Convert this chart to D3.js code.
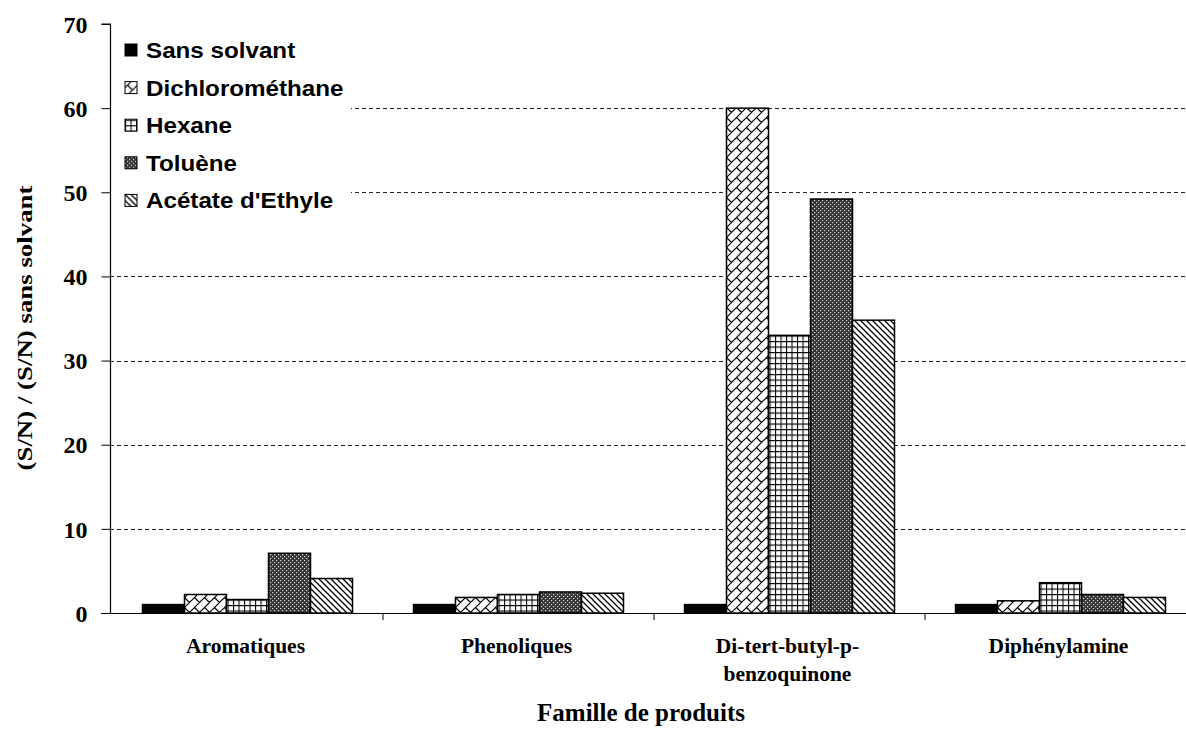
<!DOCTYPE html>
<html><head><meta charset="utf-8">
<script src="https://cdn.jsdelivr.net/npm/d3@7"></script>
<style>body{margin:0;background:#fff}svg{display:block}</style>
</head><body>
<svg id="chart" width="1186" height="729"></svg>
<script>
const categories = [["Aromatiques"], ["Phenoliques"], ["Di-tert-butyl-p-", "benzoquinone"], ["Diphénylamine"]];
const series = ["Sans solvant", "Dichlorométhane", "Hexane", "Toluène", "Acétate d'Ethyle"];
const sansSolvant = [1.0, 1.0, 1.0, 1.0];
const dichloromethane = [2.2, 1.85, 60.0, 1.45];
const hexane = [1.6, 2.2, 33.0, 3.6];
const toluene = [7.1, 2.5, 49.2, 2.2];
const acetate = [4.1, 2.35, 34.8, 1.85];
const yTicks = [0, 10, 20, 30, 40, 50, 60, 70];
const values = [sansSolvant, dichloromethane, hexane, toluene, acetate];

const svg = d3.select("#chart");
const defs = svg.append("defs");
const margin = {left: 112, top: 24, bottom: 613, right: 1196};

// patterns
const fills = ["#000"];
// DCM: diagonal brick
let p = defs.append("pattern").attr("id","p1").attr("patternUnits","userSpaceOnUse").attr("width",10).attr("height",10);
p.append("rect").attr("width",10).attr("height",10).attr("fill","#fff");
p.append("path").attr("d","M-1,11 L11,-1 M-2,2 L2,-2 M8,12 L12,8 M2.5,7.5 L7.5,12.5 M2.5,-2.5 L7.5,2.5").attr("stroke","#000").attr("stroke-width",1.2);
fills.push("url(#p1)");
// Hexane: grid
p = defs.append("pattern").attr("id","p2").attr("patternUnits","userSpaceOnUse").attr("width",5.5).attr("height",5.5);
p.append("rect").attr("width",5.5).attr("height",5.5).attr("fill","#fff");
p.append("path").attr("d","M0,0.5 H5.5 M0.5,0 V5.5").attr("stroke","#000").attr("stroke-width",1.1);
fills.push("url(#p2)");
// Toluene: dotted diamond dark
p = defs.append("pattern").attr("id","p3").attr("patternUnits","userSpaceOnUse").attr("width",4).attr("height",4);
p.append("rect").attr("width",4).attr("height",4).attr("fill","#333");
p.append("rect").attr("x",0).attr("y",0).attr("width",1.2).attr("height",1.2).attr("fill","#ddd");
p.append("rect").attr("x",2).attr("y",2).attr("width",1.2).attr("height",1.2).attr("fill","#ddd");
fills.push("url(#p3)");
// Acetate: downward diagonal
p = defs.append("pattern").attr("id","p4").attr("patternUnits","userSpaceOnUse").attr("width",6).attr("height",6);
p.append("rect").attr("width",6).attr("height",6).attr("fill","#fff");
p.append("path").attr("d","M0,0 L6,6 M-3,3 L3,9 M3,-3 L9,3").attr("stroke","#000").attr("stroke-width",1.3);
fills.push("url(#p4)");

const y = d3.scaleLinear().domain([0,70]).range([margin.bottom, margin.top]);
const x0 = d3.scaleBand().domain(d3.range(categories.length)).range([margin.left, margin.right]).paddingInner(0).paddingOuter(0);
const x1 = d3.scaleBand().domain(d3.range(series.length)).range([0, x0.bandwidth()]).paddingOuter(0.726).paddingInner(0);

// gridlines
svg.append("g").selectAll("line").data(yTicks.filter(t=>t>0 && t<70)).join("line")
  .attr("x1", 110).attr("x2", 1186).attr("y1", d=>Math.round(y(d))+0.5).attr("y2", d=>Math.round(y(d))+0.5)
  .attr("stroke","#222").attr("stroke-dasharray","4,3").attr("stroke-width",1);

// bars
const groups = svg.append("g").selectAll("g").data(d3.range(categories.length)).join("g")
  .attr("transform", i=>`translate(${x0(i)},0)`);
groups.selectAll("rect").data(i=>values.map((v,s)=>({s, v:v[i]}))).join("rect")
  .attr("x", d=>x1(d.s)).attr("width", x1.bandwidth())
  .attr("y", d=>y(d.v)).attr("height", d=>y(0)-y(d.v))
  .attr("fill", d=>fills[d.s]).attr("stroke","#000").attr("stroke-width",1.5);

// legend background
svg.append("rect").attr("x",111).attr("y",28).attr("width",240).attr("height",190).attr("fill","#fff");

// y axis
const yAxis = d3.axisLeft(y).tickValues(yTicks).tickSize(9).tickPadding(14);
const gy = svg.append("g").attr("transform","translate(110.5,0)").call(yAxis);
gy.select(".domain").attr("stroke","#000").attr("stroke-width",1.2).attr("d",`M-9,${y(70)}H0V${y(0)}`);
gy.selectAll(".tick line").attr("stroke","#000");
gy.selectAll("text").attr("font-family","'Liberation Serif', serif").attr("font-weight","bold").attr("font-size",24).attr("fill","#000").attr("dy","0.34em");

// x axis
svg.append("line").attr("x1",101).attr("x2",1186).attr("y1",y(0)+0.5).attr("y2",y(0)+0.5).attr("stroke","#000").attr("stroke-width",1.2);
svg.append("g").selectAll("line").data(d3.range(1,categories.length)).join("line")
  .attr("x1", i=>x0(i)).attr("x2", i=>x0(i)).attr("y1", y(0)).attr("y2", y(0)+7).attr("stroke","#000");

// category labels
const cl = svg.append("g").selectAll("text").data(categories).join("text")
  .attr("x",(d,i)=>x0(i)+x0.bandwidth()/2 - 2).attr("y",653)
  .attr("text-anchor","middle").attr("font-family","'Liberation Serif', serif").attr("font-weight","bold").attr("font-size",21.5).attr("fill","#000");
cl.selectAll("tspan").data(d=>d).join("tspan").attr("x",function(){return this.parentNode.getAttribute("x");}).attr("dy",(d,i)=>i===0?0:28).text(d=>d);

// axis titles
svg.append("text").attr("x",641).attr("y",721).attr("text-anchor","middle")
  .attr("font-family","'Liberation Serif', serif").attr("font-weight","bold").attr("font-size",25).text("Famille de produits");
svg.append("text").attr("transform","translate(32,328) rotate(-90)").attr("text-anchor","middle")
  .attr("font-family","'Liberation Serif', serif").attr("font-weight","bold").attr("font-size",20)
  .attr("textLength",285).attr("lengthAdjust","spacingAndGlyphs").text("(S/N) / (S/N) sans solvant");

// legend
const lg = svg.append("g").selectAll("g").data(series).join("g")
  .attr("transform",(d,i)=>`translate(125,${50 + i*37.6})`);
lg.append("rect").attr("x",0).attr("y",-6).attr("width",12).attr("height",12)
  .attr("fill",(d,i)=>fills[i]).attr("stroke","#000").attr("stroke-width",1);
lg.append("text").attr("transform","translate(21,8) scale(1.1,1)").attr("font-family","'Liberation Sans', Arial, sans-serif").attr("font-weight","bold").attr("font-size",22).attr("fill","#000").text(d=>d);
</script>
</body></html>
